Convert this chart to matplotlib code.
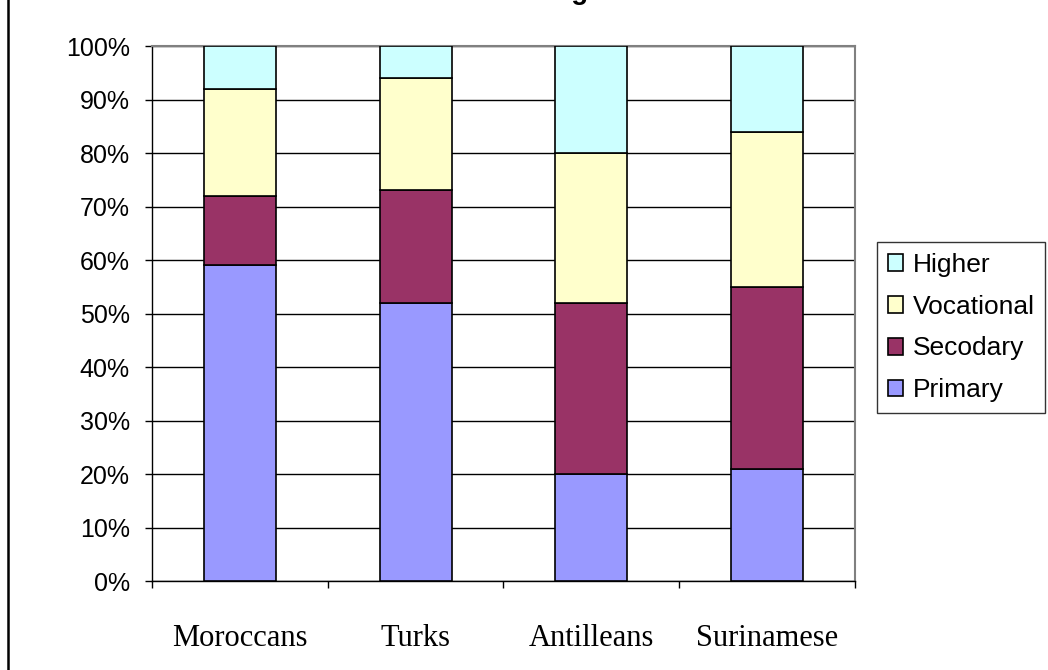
import matplotlib
matplotlib.use("Agg")
import matplotlib.pyplot as plt
import numpy as np
from matplotlib.patches import Patch
from matplotlib.lines import Line2D

groups = ["Moroccans", "Turks", "Antilleans", "Surinamese"]
primary = [59, 52, 20, 21]
secondary = [13, 21, 32, 34]
vocational = [20, 21, 28, 29]
higher = [8, 6, 20, 16]

series_names = ["Primary", "Secodary", "Vocational", "Higher"]
series_colors = ["#9999FF", "#993366", "#FFFFCC", "#CCFFFF"]
yticks = [0, 10, 20, 30, 40, 50, 60, 70, 80, 90, 100]

fig = plt.figure(figsize=(10.48, 6.70), dpi=100)
ax = fig.add_axes([0.1450, 0.1328, 0.6708, 0.7985])

x = np.arange(len(groups))
bottom = np.zeros(len(groups))
for vals, name, col in zip([primary, secondary, vocational, higher], series_names, series_colors):
    ax.bar(x, vals, width=0.41, bottom=bottom, color=col, edgecolor="black",
           linewidth=1.2, label=name, zorder=3)
    bottom += np.array(vals)

ax.set_xlim(-0.5, len(groups) - 0.5)
ax.set_ylim(0, 100)

# horizontal gridlines
ax.set_yticks(yticks)
ax.set_yticklabels([f"{v}%" for v in yticks], family="Liberation Sans", fontsize=18)
ax.yaxis.grid(True, color="black", linewidth=1.0, zorder=0)
ax.tick_params(axis="y", direction="out", length=5, width=1, pad=11, color="black")

# category labels centred, tick marks at category boundaries
ax.set_xticks(x)
ax.set_xticklabels(groups, family="Liberation Serif", fontsize=22)
ax.set_xticks(np.arange(-0.5, len(groups)), minor=True)
ax.tick_params(axis="x", which="major", length=0, pad=31)
ax.tick_params(axis="x", which="minor", direction="out", length=5, width=1, color="black")

for side in ["top", "right"]:
    ax.spines[side].set_color("#808080")
    ax.spines[side].set_linewidth(1.5)
for side in ["left", "bottom"]:
    ax.spines[side].set_color("black")
    ax.spines[side].set_linewidth(1.0)

# legend, topmost series first
handles = [Patch(facecolor=c, edgecolor="black", linewidth=1.2) for c in series_colors][::-1]
labels = series_names[::-1]
leg = fig.legend(handles, labels, loc="upper left",
                 bbox_to_anchor=(877 / 1048, 1 - 242 / 670),
                 prop={"family": "Liberation Sans", "size": 19},
                 frameon=True, fancybox=False, edgecolor="black",
                 handlelength=0.6, handleheight=0.6, handletextpad=0.35,
                 labelspacing=0.68, borderpad=0.4, borderaxespad=0)
leg.get_frame().set_linewidth(1.0)

# chart title sits above the visible area
fig.text(0.497, 1.0015, "Schooling", ha="center", va="baseline",
         family="Liberation Sans", fontweight="bold", fontsize=20)

# chart frame, left edge
fig.add_artist(Line2D([7.5 / 1048, 7.5 / 1048], [0, 1], transform=fig.transFigure,
                      color="black", linewidth=1.8))

fig.savefig("out.png", dpi=100)
